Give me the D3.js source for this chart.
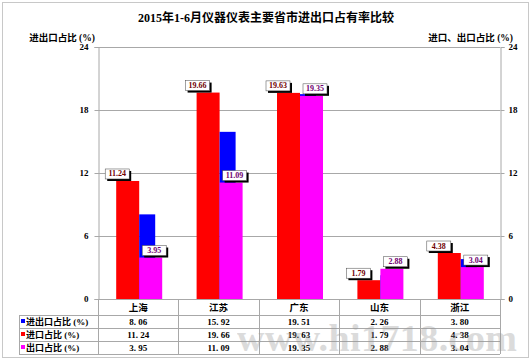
<!DOCTYPE html>
<html><head><meta charset="utf-8">
<script src="https://cdn.jsdelivr.net/npm/d3@7/dist/d3.min.js"></script>
<style>
body{margin:0;background:#fff;}
svg{display:block;}
text{font-family:"Liberation Serif","Noto Sans CJK SC",serif;font-weight:bold;}
</style></head>
<body>
<svg id="c" width="532" height="361"></svg>
<script>
const title = "2015年1-6月仪器仪表主要省市进出口占有率比较";
const leftTitle = "进出口占比 (%)";
const rightTitle = "进口、出口占比 (%)";
const categories = ["上海","江苏","广东","山东","浙江"];
const seriesNames = ["进出口占比 (%)","进口占比 (%)","出口占比 (%)"];
const totalShare = [8.06,15.92,19.51,2.26,3.80];
const importShare = [11.24,19.66,19.63,1.79,4.38];
const exportShare = [3.95,11.09,19.35,2.88,3.04];
const tickValues = [0,6,12,18,24];
const colors = ["#0000ff","#ff0000","#ff00ff"];

const svg = d3.select("#c");
const L=98,R=500,T=47,B=299;
const x = d3.scaleBand().domain(categories).range([L,R]);
const yL = d3.scaleLinear().domain([0,24]).range([B,T]);
const yR = d3.scaleLinear().domain([0,24]).range([B,T]);
const fmt = d3.format(".2f");

// outer frame
svg.append("rect").attr("x",2.5).attr("y",2.5).attr("width",526).attr("height",355)
  .attr("fill","none").attr("stroke","#c8c8c8");

svg.append("text").attr("x",266).attr("y",22).attr("text-anchor","middle")
  .attr("font-size",12).text(title);
svg.append("text").attr("x",62).attr("y",41).attr("text-anchor","middle")
  .attr("font-size",9.5).text(leftTitle);
svg.append("text").attr("x",513).attr("y",41).attr("text-anchor","end")
  .attr("font-size",9.5).text(rightTitle);

// gridlines
svg.append("g").selectAll("line").data(tickValues).join("line")
  .attr("x1",L).attr("x2",R).attr("y1",d=>yL(d)+0.5).attr("y2",d=>yL(d)+0.5)
  .attr("stroke","#a8a8a8");

// axes
const axL = svg.append("g").attr("transform",`translate(${L+0.5},0)`)
  .call(d3.axisLeft(yL).tickValues(tickValues).tickSize(4).tickPadding(6).tickFormat(d3.format("d")));
const axR = svg.append("g").attr("transform",`translate(${R+0.5},0)`)
  .call(d3.axisRight(yR).tickValues(tickValues).tickSize(4).tickPadding(4).tickFormat(d3.format("d")));
[axL,axR].forEach(a=>{
  a.select(".domain").attr("stroke","#a8a8a8");
  a.selectAll(".tick line").attr("stroke","#a8a8a8");
  a.selectAll("text").attr("font-size",9).attr("font-family","Liberation Serif").attr("font-weight","bold").attr("fill","#000");
});

// bars
const g = svg.append("g");
const bw = 23;
const cx = d=>x(d)+x.bandwidth()/2;
g.selectAll(".imp").data(categories).join("rect")
  .attr("x",(d)=>cx(d)-22).attr("width",bw)
  .attr("y",(d,i)=>yR(importShare[i])).attr("height",(d,i)=>B-yR(importShare[i]))
  .attr("fill",colors[1]);
g.selectAll(".tot").data(categories).join("rect")
  .attr("x",(d)=>cx(d)+1).attr("width",16)
  .attr("y",(d,i)=>yL(totalShare[i])).attr("height",(d,i)=>B-yL(totalShare[i]))
  .attr("fill",colors[0]);
g.selectAll(".exp").data(categories).join("rect")
  .attr("x",(d)=>cx(d)+1).attr("width",bw)
  .attr("y",(d,i)=>yR(exportShare[i])).attr("height",(d,i)=>B-yR(exportShare[i]))
  .attr("fill",colors[2]);

// labels
function label(xc, ytop, txt, col){
  const w=24,h=10;
  const lg = svg.append("g");
  lg.append("rect").attr("x",xc-w/2+2).attr("y",ytop-h-2+2).attr("width",w).attr("height",h).attr("fill","#000");
  lg.append("rect").attr("x",xc-w/2).attr("y",ytop-h-2).attr("width",w).attr("height",h).attr("fill","#fff").attr("stroke","#444").attr("stroke-width",0.5);
  lg.append("text").attr("x",xc).attr("y",ytop-4.5).attr("text-anchor","middle")
    .attr("font-size",8).attr("fill",col).text(txt);
}
categories.forEach((c,i)=>{
  label(cx(c)-21, yR(importShare[i]), fmt(importShare[i]), "#700000");
  label(cx(c)+16, yR(exportShare[i]), fmt(exportShare[i]), "#700070");
});

// data table
const rows = [totalShare, importShare, exportShare];
const rowY = [299,315,328,341,354];
const tg = svg.append("g");
const TL = 19;
rowY.slice(1).forEach(yy=>{
  tg.append("line").attr("x1",TL).attr("x2",R).attr("y1",yy+0.5).attr("y2",yy+0.5).attr("stroke","#a8a8a8");
});
tg.append("line").attr("x1",TL+0.5).attr("x2",TL+0.5).attr("y1",rowY[1]).attr("y2",rowY[4]).attr("stroke","#a8a8a8");
[L,...categories.map(c=>x(c)+x.bandwidth()),].forEach(xx=>{
  tg.append("line").attr("x1",Math.round(xx)+0.5).attr("x2",Math.round(xx)+0.5).attr("y1",B).attr("y2",rowY[4]).attr("stroke","#a8a8a8");
});
tg.selectAll(".cat").data(categories).join("text")
  .attr("x",d=>cx(d)).attr("y",311).attr("text-anchor","middle").attr("font-size",9.5).text(d=>d);
rows.forEach((arr,r)=>{
  const yy = rowY[r+1]+10;
  tg.append("rect").attr("x",21).attr("y",yy-6).attr("width",4).attr("height",4).attr("fill",colors[r]);
  tg.append("text").attr("x",26).attr("y",yy).attr("font-size",9).text(seriesNames[r]);
  tg.selectAll(null).data(categories).join("text")
    .attr("x",d=>cx(d)).attr("y",yy).attr("text-anchor","middle").attr("font-size",9)
    .text((d,i)=>fmt(arr[i]).replace(".",". "));
});

// watermark
svg.append("text").attr("x",237).attr("y",351).attr("font-family","Liberation Serif").attr("font-weight","normal")
  .attr("font-size",38).attr("fill","#999").attr("opacity",0.35)
  .attr("textLength",280).attr("lengthAdjust","spacing").text("www.hi1718.com");
</script>
</body></html>
